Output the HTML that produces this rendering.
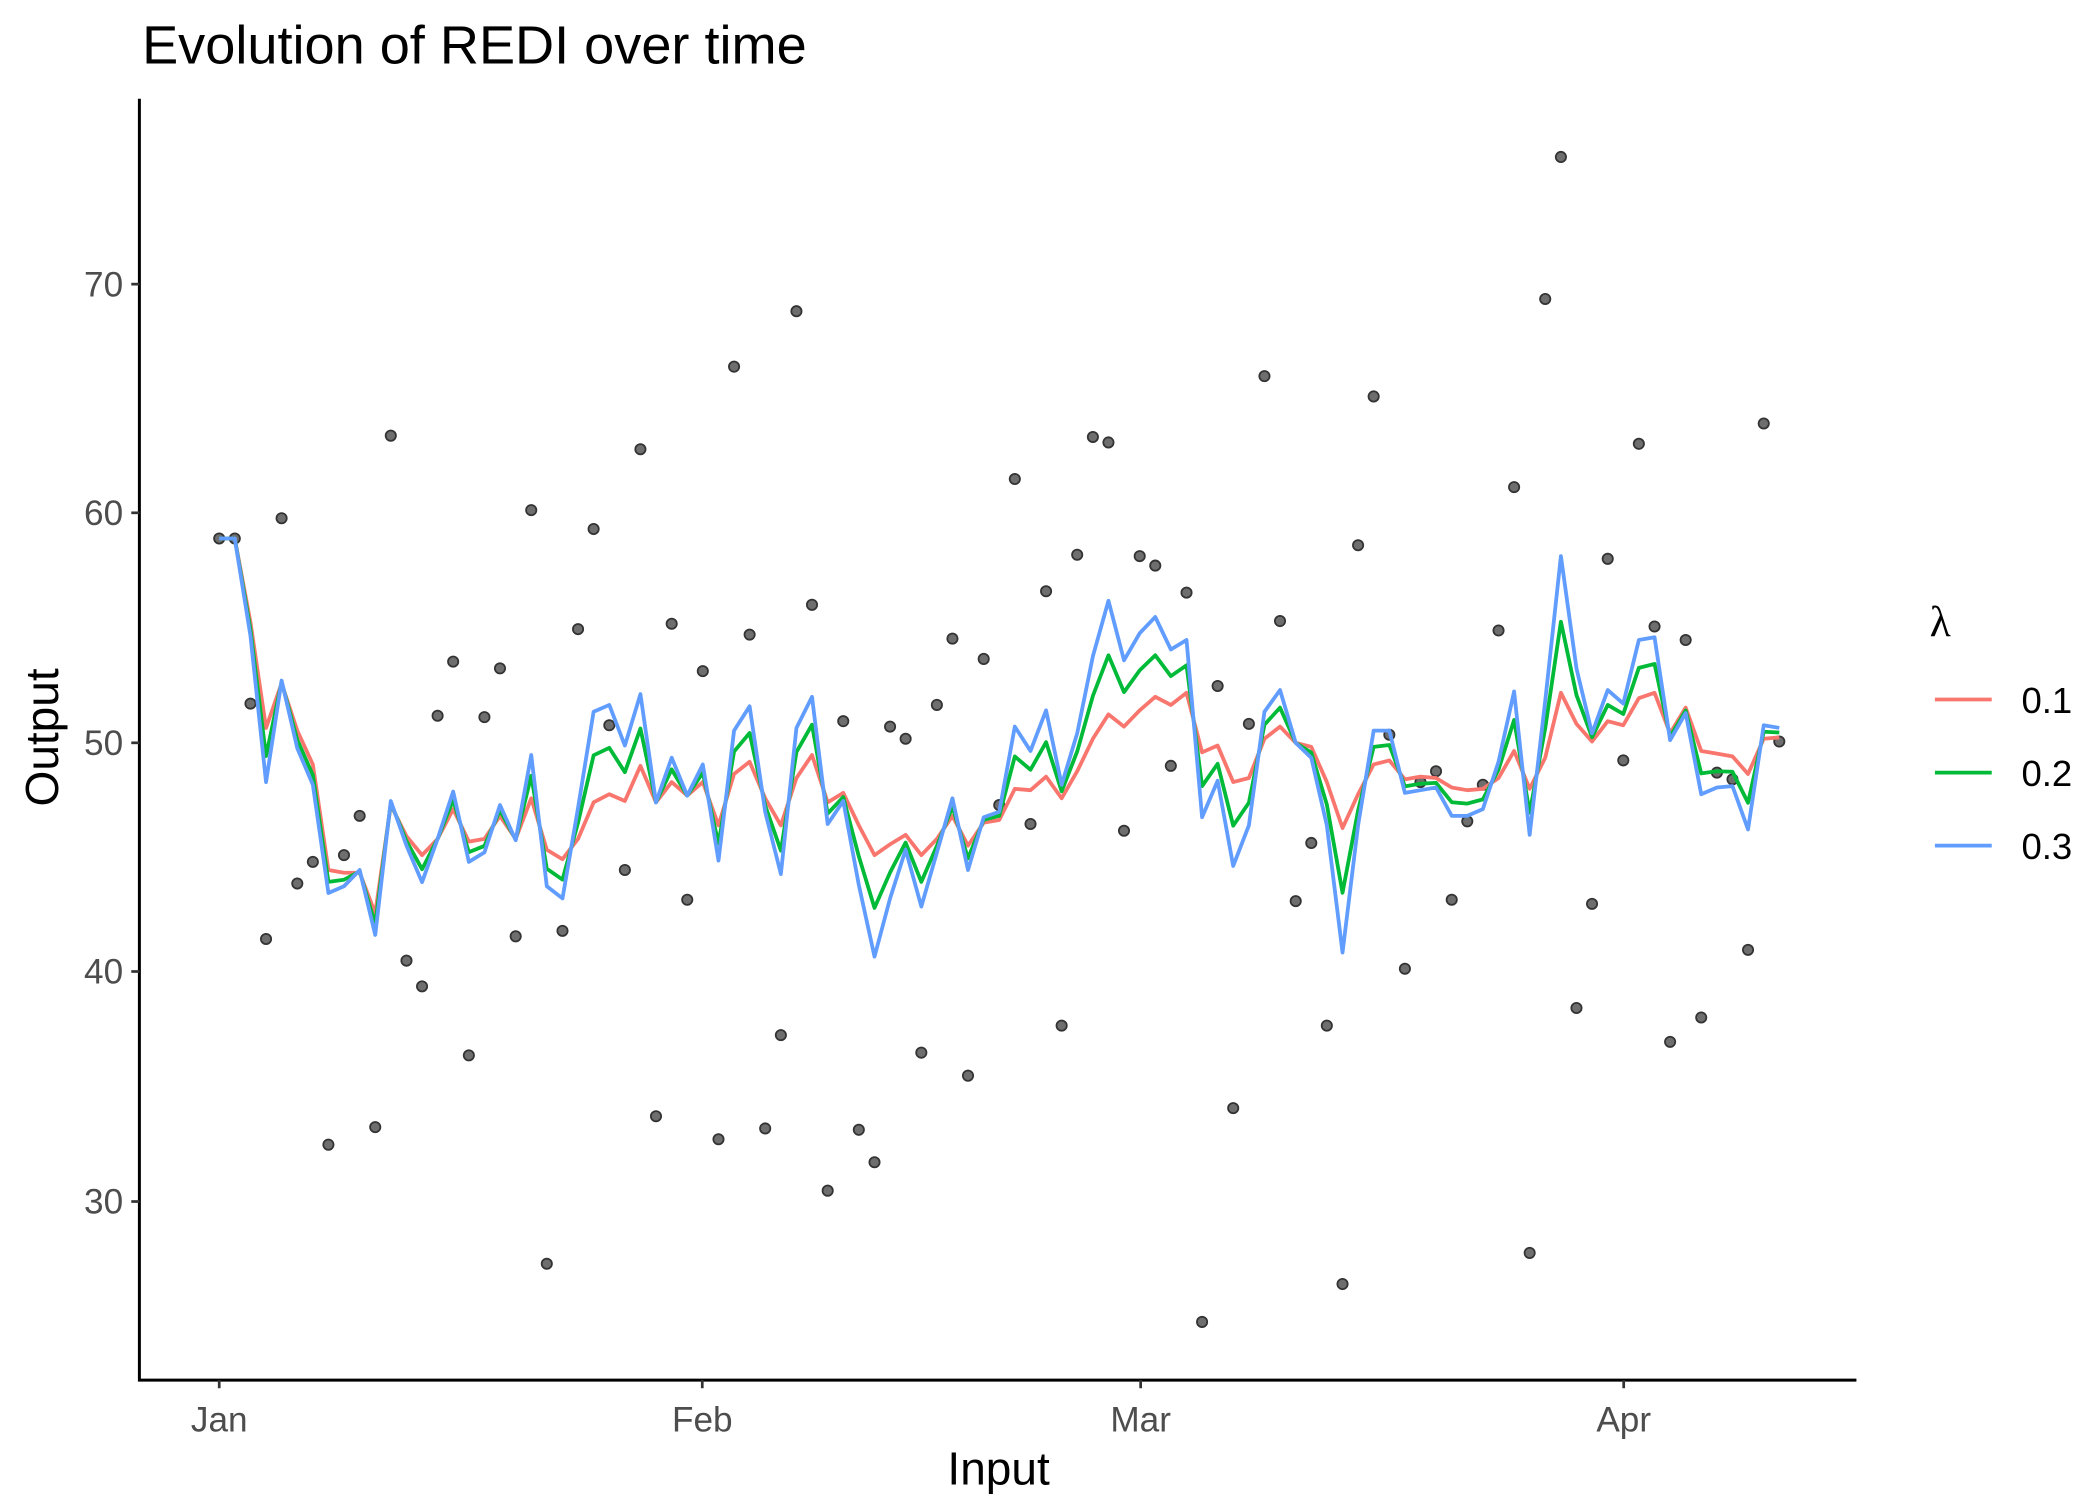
<!DOCTYPE html>
<html><head><meta charset="utf-8"><style>html,body{margin:0;padding:0;background:#fff}svg{display:block}</style></head>
<body>
<svg id="s" width="2100" height="1500" viewBox="0 0 1552 1108.6" xmlns="http://www.w3.org/2000/svg" font-family="Liberation Sans, sans-serif">
<rect width="1552" height="1110" fill="#fff"/>
<text x="105" y="47" font-size="40" fill="#000">Evolution of REDI over time</text>
<g stroke="#000" stroke-width="2.2" fill="none">
<line x1="103" y1="73" x2="103" y2="1021"/>
<line x1="102" y1="1020" x2="1372" y2="1020"/>
</g>
<g stroke="#333" stroke-width="2">
<line x1="97" y1="210" x2="103" y2="210"/><line x1="97" y1="379" x2="103" y2="379"/>
<line x1="97" y1="549" x2="103" y2="549"/><line x1="97" y1="718" x2="103" y2="718"/>
<line x1="97" y1="888" x2="103" y2="888"/>
<line x1="162" y1="1020" x2="162" y2="1026"/><line x1="519" y1="1020" x2="519" y2="1026"/>
<line x1="843" y1="1020" x2="843" y2="1026"/><line x1="1200" y1="1020" x2="1200" y2="1026"/>
</g>
<g font-size="26" fill="#4d4d4d" text-anchor="end">
<text x="91" y="219">70</text><text x="91" y="388">60</text><text x="91" y="558">50</text><text x="91" y="727">40</text><text x="91" y="897">30</text>
</g>
<g font-size="26" fill="#4d4d4d" text-anchor="middle">
<text x="162" y="1058">Jan</text><text x="519" y="1058">Feb</text><text x="843" y="1058">Mar</text><text x="1200" y="1058">Apr</text>
</g>
<text x="738" y="1097" font-size="34" text-anchor="middle">Input</text>
<text transform="translate(43,545) rotate(-90)" font-size="34" text-anchor="middle">Output</text>
<g id="pts"></g>
<g id="lines" fill="none" stroke-width="2.8" stroke-linejoin="round"></g>
<text x="1434" y="470" font-size="32" font-family="Liberation Serif, serif" text-anchor="middle">λ</text>
<g stroke-width="2.8">
<line x1="1430" y1="517" x2="1472" y2="517" stroke="#F8766D"/>
<line x1="1430" y1="571" x2="1472" y2="571" stroke="#00BA38"/>
<line x1="1430" y1="625" x2="1472" y2="625" stroke="#619CFF"/>
</g>
<g font-size="27" fill="#000">
<text x="1494" y="527">0.1</text><text x="1494" y="581">0.2</text><text x="1494" y="635">0.3</text>
</g>
</svg>
<script>
var P=[398,398,520,694,383,653,637,846,632,603,833,322,710,729,529,489,780,530,494,692,377,934,688,465,391,536,643,332,825,461,665,496,842,271,469,834,765,230,447,880,533,835,859,537,546,778,521,472,795,487,595,354,609,437,758,410,323,327,614,411,418,566,438,977,507,819,535,278,459,666,623,758,949,403,293,543,716,578,570,665,607,580,466,360,926,221,116,745,668,413,562,328,463,770,473,752,571,576,702,313,548];
var B=[398,398,470,578,503,553,580,660,655,643,691,592,625,652,620,585,637,630,595,621,558,655,664,597,526,521,551,513,593,560,588,565,636,540,522,600,646,538,515,609,592,654,707,664,628,670,630,590,643,604,600,537,555,525,580,542,485,444,488,468,456,480,473,604,577,640,610,526,510,549,560,610,704,610,540,540,586,584,582,603,603,598,563,511,617,518,411,494,542,510,520,473,471,547,527,587,582,581,613,536,538];
var R=[398,398,460,538,505,540,565,643,645,645,675,595,618,632,620,598,622,620,603,620,590,628,635,620,593,587,592,566,593,578,588,578,610,572,563,590,610,575,558,593,586,610,632,624,617,632,620,603,625,608,606,583,584,574,590,570,546,528,537,525,515,521,512,556,551,578,575,546,537,549,552,578,612,587,565,562,576,574,575,582,584,583,575,555,583,560,512,535,548,533,536,516,512,542,523,555,557,559,572,546,545];
function X(i){return 162+i*11.53;}
var ns="http://www.w3.org/2000/svg",g=document.getElementById('pts');
P.forEach(function(y,i){var c=document.createElementNS(ns,'circle');c.setAttribute('cx',X(i).toFixed(1));c.setAttribute('cy',y);c.setAttribute('r',3.8);c.setAttribute('fill','#6e6e6e');c.setAttribute('stroke','#333');c.setAttribute('stroke-width',1.3);g.appendChild(c);});
var G=R.map(function(r,i){return r+0.52*(B[i]-r);});
var L=document.getElementById('lines');
[[R,'#F8766D'],[G,'#00BA38'],[B,'#619CFF']].forEach(function(a){var p=document.createElementNS(ns,'polyline');p.setAttribute('points',a[0].map(function(y,i){return X(i).toFixed(1)+','+y.toFixed(1);}).join(' '));p.setAttribute('stroke',a[1]);L.appendChild(p);});
</script>
</body></html>
